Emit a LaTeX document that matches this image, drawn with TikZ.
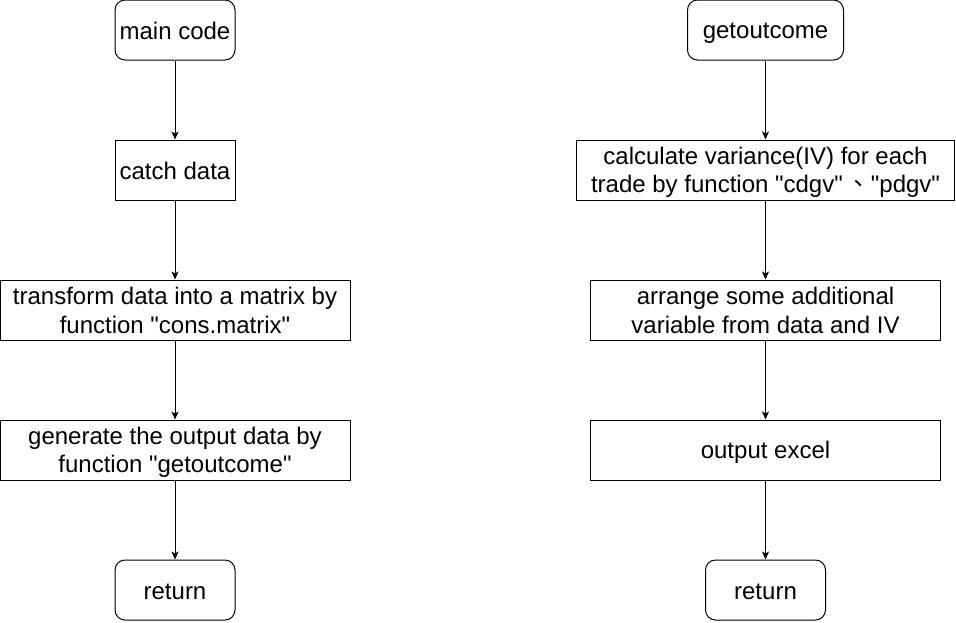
\documentclass[tikz,border=0pt]{standalone}
\usepackage{fontspec}
\setmainfont{Liberation Sans}[Ligatures=TeXOff]
\newfontfamily\cjk{Noto Sans CJK TC}
\usetikzlibrary{arrows.meta}
\newcommand\vs{\rule[-4pt]{0pt}{26pt}}
\begin{document}
\begin{tikzpicture}[x=1pt,y=-1pt,
  every node/.style={font=\fontsize{24}{28.5}\selectfont, text=black, align=center, inner sep=0pt},
  box/.style={draw=black, line width=1pt, minimum height=60pt},
  rbox/.style={box, rounded corners=10pt},
  arr/.style={draw=black, line width=1pt, -{Stealth[length=8pt,width=7pt,inset=2pt]}}]
\useasboundingbox (0,0) rectangle (956,622);
% left column
\node[rbox, minimum width=120pt] (m1) at (175,30) {\vs main code};
\node[box, minimum width=120pt] (m2) at (175,170) {\vs catch data};
\node[box, minimum width=350pt] (m3) at (175,310) {\vs transform data into a matrix by\\\vs function "cons.matrix"};
\node[box, minimum width=350pt] (m4) at (175,450) {\vs generate the output data by\\\vs function "getoutcome"};
\node[rbox, minimum width=120pt] (m5) at (175,590) {\vs return};
% right column
\node[rbox, minimum width=156pt] (g1) at (765.5,30) {\vs getoutcome};
\node[box, minimum width=378pt] (g2) at (765.5,170) {\vs calculate variance(IV) for each\\\vs trade by function "cdgv"\,{\cjk 、}"pdgv"};
\node[box, minimum width=350pt] (g3) at (765.5,310) {\vs arrange some additional\\\vs variable from data and IV};
\node[box, minimum width=350pt] (g4) at (765.5,450) {\vs output excel};
\node[rbox, minimum width=120pt] (g5) at (765.5,590) {\vs return};
\draw[arr] (m1) -- (m2);
\draw[arr] (m2) -- (m3);
\draw[arr] (m3) -- (m4);
\draw[arr] (m4) -- (m5);
\draw[arr] (g1) -- (g2);
\draw[arr] (g2) -- (g3);
\draw[arr] (g3) -- (g4);
\draw[arr] (g4) -- (g5);
\end{tikzpicture}
\end{document}
